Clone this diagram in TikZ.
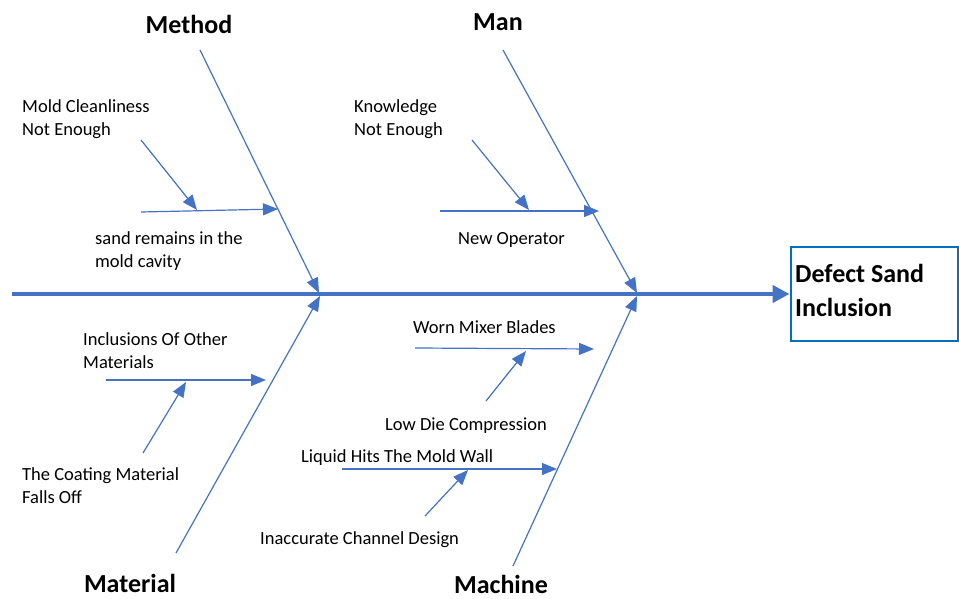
\documentclass[tikz,border=0pt]{standalone}
\usepackage{fontspec}
\setmainfont{Carlito}
\usetikzlibrary{arrows.meta}
\definecolor{bone}{HTML}{4472C4}
\definecolor{boxblue}{HTML}{0070C0}
\begin{document}
\begin{tikzpicture}[x=1pt,y=-1pt,
  bonearrow/.style={draw=bone,line width=1.2pt,-{Triangle[length=15pt,width=12pt]}},
  spinearrow/.style={draw=bone,line width=4.5pt,-{Triangle[length=17pt,width=17pt]}},
  causetext/.style={font=\fontsize{18.5}{23}\selectfont,inner sep=0pt,anchor=west,align=left},
  titletext/.style={font=\fontsize{26}{34}\selectfont\bfseries,inner sep=0pt},
  effectbox/.style={draw=boxblue,line width=2pt,minimum width=167pt,minimum height=94pt,inner sep=0pt}]
\useasboundingbox (0,0) rectangle (959,599);
% effect box
\node[effectbox] (effect) at (874,294) {};
\node[font=\fontsize{26}{34}\selectfont\bfseries,inner sep=0pt,anchor=west,align=left] (effecttxt) at (795,290) {Defect Sand\\Inclusion};
% spine
\coordinate (spinestart) at (12,294);
\draw[spinearrow] (spinestart) -- (effect.west);
% main bones
\coordinate (methodS) at (200,50);  \coordinate (methodE) at (319,293);
\coordinate (manS) at (503,50);     \coordinate (manE) at (637,293);
\coordinate (matS) at (176,553);    \coordinate (matE) at (320,296);
\coordinate (machS) at (513,566);   \coordinate (machE) at (637,296);
\draw[bonearrow] (methodS) -- (methodE);
\draw[bonearrow] (manS) -- (manE);
\draw[bonearrow] (matS) -- (matE);
\draw[bonearrow] (machS) -- (machE);
% titles
\node[titletext] (method) at (189,24) {Method};
\node[titletext] (man) at (498,22) {Man};
\node[titletext] (material) at (130,583) {Material};
\node[titletext] (machine) at (501,584) {Machine};
% Method sub-branches
\coordinate (m1S) at (141,212); \coordinate (m1E) at (278,209);
\coordinate (m2S) at (141,140); \coordinate (m2E) at (197,210);
\draw[bonearrow] (m1S) -- (m1E);
\draw[bonearrow] (m2S) -- (m2E);
\node[causetext] (mold) at (22,119.5) {Mold Cleanliness\\Not Enough};
\node[causetext] (sand) at (95,251.5) {sand remains in the\\mold cavity};
% Man sub-branches
\coordinate (n1S) at (440,211); \coordinate (n1E) at (599,211);
\coordinate (n2S) at (472,140); \coordinate (n2E) at (529,210);
\draw[bonearrow] (n1S) -- (n1E);
\draw[bonearrow] (n2S) -- (n2E);
\node[causetext] (know) at (354,119.5) {Knowledge\\Not Enough};
\node[causetext] (newop) at (458,240) {New Operator};
% Material sub-branches
\coordinate (t1S) at (106,380); \coordinate (t1E) at (266,380);
\coordinate (t2S) at (143,453); \coordinate (t2E) at (186,382);
\draw[bonearrow] (t1S) -- (t1E);
\draw[bonearrow] (t2S) -- (t2E);
\node[causetext] (incl) at (83,351) {Inclusions Of Other\\Materials};
\node[causetext] (coat) at (22,486) {The Coating Material\\Falls Off};
% Machine sub-branches
\coordinate (c1S) at (415,348); \coordinate (c1E) at (594,349);
\coordinate (c2S) at (486,401); \coordinate (c2E) at (526,351);
\draw[bonearrow] (c1S) -- (c1E);
\draw[bonearrow] (c2S) -- (c2E);
\node[causetext] (worn) at (413,327) {Worn Mixer Blades};
\node[causetext] (lowdie) at (385,426) {Low Die Compression};
\coordinate (c3S) at (342,469); \coordinate (c3E) at (557,469);
\coordinate (c4S) at (425,516); \coordinate (c4E) at (468,470);
\draw[bonearrow] (c3S) -- (c3E);
\draw[bonearrow] (c4S) -- (c4E);
\node[causetext] (liquid) at (301,458) {Liquid Hits The Mold Wall};
\node[causetext] (inacc) at (260,540) {Inaccurate Channel Design};
\end{tikzpicture}
\end{document}
